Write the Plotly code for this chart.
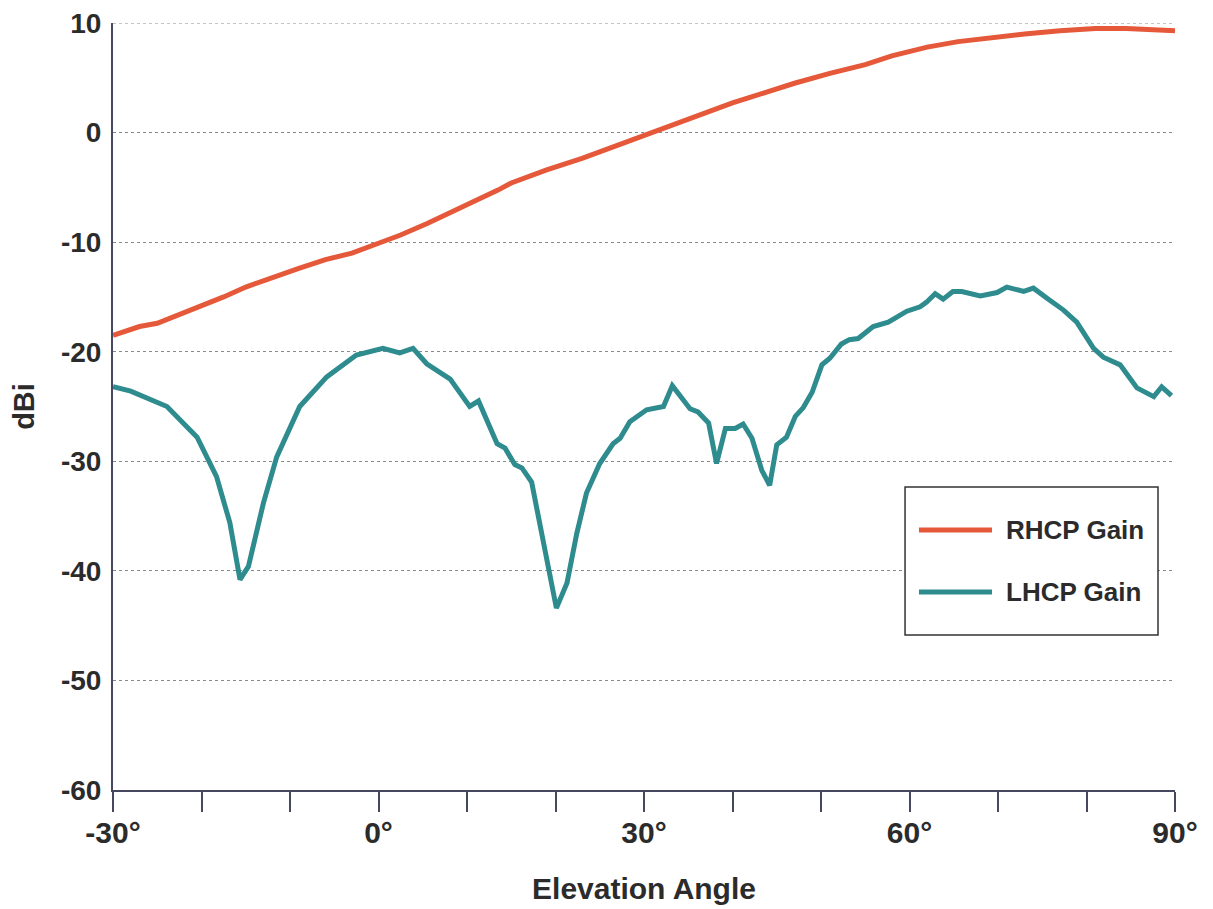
import plotly.graph_objects as go

# ---- data ----
rhcp_angle = [-30, -27, -25, -22.5, -20, -17.5, -15, -12, -9, -6, -3, 0, 2.5, 5.5, 8.5, 11, 13.5,
              15, 19, 23, 26.5, 30, 34, 38, 40, 43.5, 47, 51, 55, 58, 62, 65.5, 69.5, 73, 77, 81,
              84.5, 88, 90]
rhcp_gain = [-18.5, -17.7, -17.4, -16.6, -15.9, -15.0, -14.1, -13.2, -12.4, -11.6, -11.0, -10.1,
             -9.35, -8.3, -7.2, -6.2, -5.25, -4.6, -3.4, -2.35, -1.3, -0.2, 1.0, 2.1, 2.7, 3.6,
             4.5, 5.4, 6.2, 7.0, 7.8, 8.3, 8.7, 9.0, 9.3, 9.5, 9.5, 9.4, 9.3]

lhcp_angle = [-30, -28, -23.9, -20.5, -18.3, -16.8, -15.65, -14.7, -13.0, -11.5, -8.9, -5.85,
              -2.5, 0.5, 2.4, 3.9, 5.45, 8.1, 10.3, 11.3, 13.4, 14.3, 15.4, 16.2, 17.3, 18.6,
              20.1, 21.3, 22.4, 23.5, 25.0, 26.5, 27.3, 28.4, 30.3, 32.2, 33.2, 35.2, 36.1,
              37.3, 38.2, 39.2, 40.3, 41.2, 42.2, 43.3, 44.2, 45.0, 46.1, 47.1, 48.0, 49.0,
              50.1, 51.0, 52.3, 53.2, 54.2, 55.9, 57.6, 59.7, 61.2, 61.9, 62.9, 63.8, 64.9,
              65.9, 67.2, 68.0, 69.9, 71.0, 72.9, 74.0, 75.5, 77.4, 78.9, 80.8, 81.9, 83.8,
              85.7, 87.6, 88.5, 89.6]
lhcp_gain = [-23.2, -23.6, -25.0, -27.8, -31.4, -35.6, -40.8, -39.6, -33.8, -29.6, -25.0, -22.3,
             -20.3, -19.7, -20.1, -19.7, -21.1, -22.5, -25.0, -24.5, -28.4, -28.8, -30.3, -30.6,
             -31.9, -37.5, -43.4, -41.1, -36.6, -32.9, -30.2, -28.4, -27.9, -26.4, -25.3, -25.0,
             -23.1, -25.2, -25.5, -26.5, -30.2, -27.0, -27.0, -26.6, -27.9, -30.8, -32.2, -28.5,
             -27.8, -25.9, -25.1, -23.7, -21.2, -20.6, -19.3, -18.9, -18.8, -17.7, -17.3, -16.3,
             -15.9, -15.5, -14.7, -15.2, -14.5, -14.5, -14.8, -14.9, -14.6, -14.1, -14.5, -14.2,
             -15.1, -16.2, -17.3, -19.7, -20.5, -21.2, -23.3, -24.1, -23.2, -24.0]

x_tickvals = [-30, -20, -10, 0, 10, 20, 30, 40, 50, 60, 70, 80, 90]
x_ticktext = ["-30°", "", "", "0°", "", "", "30°", "", "", "60°", "", "", "90°"]
y_tickvals = [10, 0, -10, -20, -30, -40, -50, -60]
y_ticktext = ["10", "0", "-10", "-20", "-30", "-40", "-50", "-60"]

series_names = ["RHCP Gain", "LHCP Gain"]
series_colors = ["#E5593A", "#2E8B8E"]

# ---- figure ----
FONT = "Liberation Sans, Arial, sans-serif"
TXT = "#2b2b2b"
AXC = "#45485e"
GRID = "#8a8a8a"

fig = go.Figure()
fig.add_trace(go.Scatter(x=rhcp_angle, y=rhcp_gain, mode="lines", name=series_names[0],
                         line=dict(color=series_colors[0], width=5), showlegend=False))
fig.add_trace(go.Scatter(x=lhcp_angle, y=lhcp_gain, mode="lines", name=series_names[1],
                         line=dict(color=series_colors[1], width=5), showlegend=False))

fig.update_layout(
    width=1205, height=901,
    margin=dict(l=105, r=38, t=15, b=119, autoexpand=False),
    paper_bgcolor="white", plot_bgcolor="white",
    font=dict(family=FONT, color=TXT, size=24, weight="bold"),
)
fig.update_xaxes(
    range=[-30, 90], tickvals=x_tickvals, ticktext=x_ticktext, automargin=False,
    ticks="outside", ticklen=20, tickwidth=1.5, tickcolor=AXC, ticklabelstandoff=-5,
    showline=True, linecolor=AXC, linewidth=2, showgrid=False, zeroline=False,
    tickfont=dict(size=30, family=FONT, color=TXT, weight="bold"),
    title=dict(text="Elevation Angle", standoff=30,
               font=dict(size=30, family=FONT, color=TXT, weight="bold")),
)
fig.update_yaxes(
    range=[-60, 10], tickvals=y_tickvals, ticktext=y_ticktext, automargin=False,
    ticks="", ticklabelstandoff=4, ticklabeloverflow="allow",
    showline=True, linecolor=AXC, linewidth=2, zeroline=False,
    showgrid=True, gridcolor=GRID, griddash="dot", gridwidth=1,
    tickfont=dict(size=28, family=FONT, color=TXT, weight="bold"),
    title=dict(text="dBi", standoff=18,
               font=dict(size=29, family=FONT, color=TXT, weight="bold")),
)

# top gridline at the upper end of the range (plotly omits it at the edge)
fig.add_shape(type="line", xref="paper", yref="y", x0=0, x1=1, y0=y_tickvals[0], y1=y_tickvals[0],
              line=dict(color=GRID, width=1, dash="dot"), layer="below")

# ---- legend box (drawn in paper coordinates) ----
fig.add_shape(type="rect", xref="paper", yref="paper", x0=0.7458, x1=0.9840, y0=0.2021, y1=0.3950,
              line=dict(color="#333333", width=1.5), fillcolor="white", layer="above")
leg_y = [0.3390, 0.2581]
for name, color, yy in zip(series_names, series_colors, leg_y):
    fig.add_shape(type="line", xref="paper", yref="paper", x0=0.7589, x1=0.8277, y0=yy, y1=yy,
                  line=dict(color=color, width=5), layer="above")
    fig.add_annotation(xref="paper", yref="paper", x=0.8390, y=yy, text=name, showarrow=False,
                       xanchor="left", yanchor="middle",
                       font=dict(size=26, family=FONT, color=TXT, weight="bold"))

fig.write_html("out.html")
